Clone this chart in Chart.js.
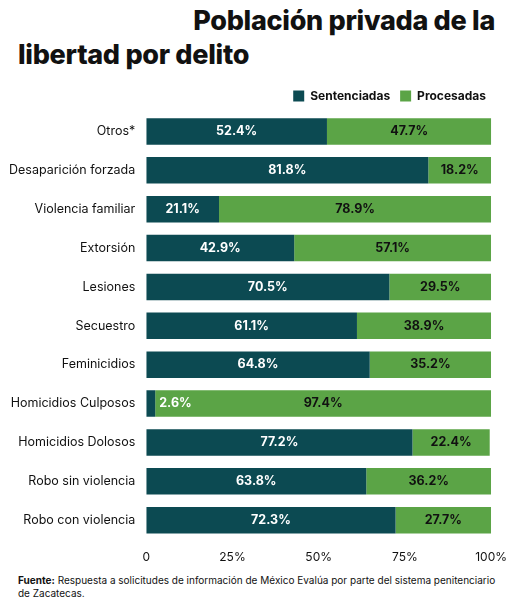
<!DOCTYPE html>
<html><head><meta charset="utf-8">
<script src="https://cdn.jsdelivr.net/npm/chart.js@4"></script>
<style>
body{margin:0;background:#fff;font-family:"Inter","Noto Sans",sans-serif;width:515px;height:607px;position:relative;overflow:hidden}
.t{position:absolute;font-weight:800;font-size:27px;color:#111;font-family:"Inter",sans-serif;letter-spacing:-0.3px}
#t1{right:20px;top:4px}
#t2{left:18px;top:38px}
#wrap{position:absolute;left:0;top:80px;width:510px;height:488px}
#foot{position:absolute;left:18px;top:574px;font-size:10px;color:#111;line-height:13px;width:480px}
</style></head><body>
<div class="t" id="t1">Población privada de la</div>
<div class="t" id="t2">libertad por delito</div>
<div id="wrap"><canvas id="c"></canvas></div>
<div id="foot"><b>Fuente:</b> Respuesta a solicitudes de información de México Evalúa por parte del sistema penitenciario de Zacatecas.</div>
<script>
const categories=["Otros*","Desaparición forzada","Violencia familiar","Extorsión","Lesiones","Secuestro","Feminicidios","Homicidios Culposos","Homicidios Dolosos","Robo sin violencia","Robo con violencia"];
const sentenciadas=[52.4,81.8,21.1,42.9,70.5,61.1,64.8,2.6,77.2,63.8,72.3];
const procesadas=[47.7,18.2,78.9,57.1,29.5,38.9,35.2,97.4,22.4,36.2,27.7];
const tickLabels=["0","25%","50%","75%","100%"];
const labelPlugin={id:"lbl",afterDatasetsDraw(ch){const ctx=ch.ctx;ctx.save();ctx.font="bold 12.5px Inter, sans-serif";ctx.textBaseline="middle";
ch.data.datasets.forEach((ds,di)=>{ch.getDatasetMeta(di).data.forEach((b,i)=>{const v=ds.data[i];const t=v.toFixed(1)+"%";
let x=(b.x+b.base)/2;ctx.textAlign="center";
if(di===0&&v<10){x=b.x+4;ctx.textAlign="left";ctx.fillStyle="#fff";}
else ctx.fillStyle=di===0?"#fff":"#111";
if(di===1&&sentenciadas[i]<10){x=(b.x+b.base)/2;}
ctx.fillText(t,x,b.y);});});ctx.restore();}};
new Chart(document.getElementById("c"),{type:"bar",
data:{labels:categories,datasets:[
{label:"Sentenciadas",data:sentenciadas,backgroundColor:"#0c4a52",barPercentage:0.68,categoryPercentage:1},
{label:"Procesadas",data:procesadas,backgroundColor:"#5ba446",barPercentage:0.68,categoryPercentage:1}]},
options:{indexAxis:"y",animation:false,responsive:true,maintainAspectRatio:false,
layout:{padding:{left:6,right:14,top:0,bottom:0}},
plugins:{legend:{align:"end",labels:{boxWidth:11,boxHeight:11,color:"#111",font:{family:"Inter",size:12,weight:"bold"},padding:10}},tooltip:{enabled:false}},
scales:{x:{stacked:true,min:0,max:100,grid:{display:false},border:{display:false},
ticks:{stepSize:25,color:"#111",font:{family:"Inter",size:12},callback:(v,i)=>tickLabels[i]}},
y:{stacked:true,grid:{display:false},border:{display:false},ticks:{color:"#111",font:{family:"Inter",size:12.5}}}}},
plugins:[labelPlugin]});
</script></body></html>
